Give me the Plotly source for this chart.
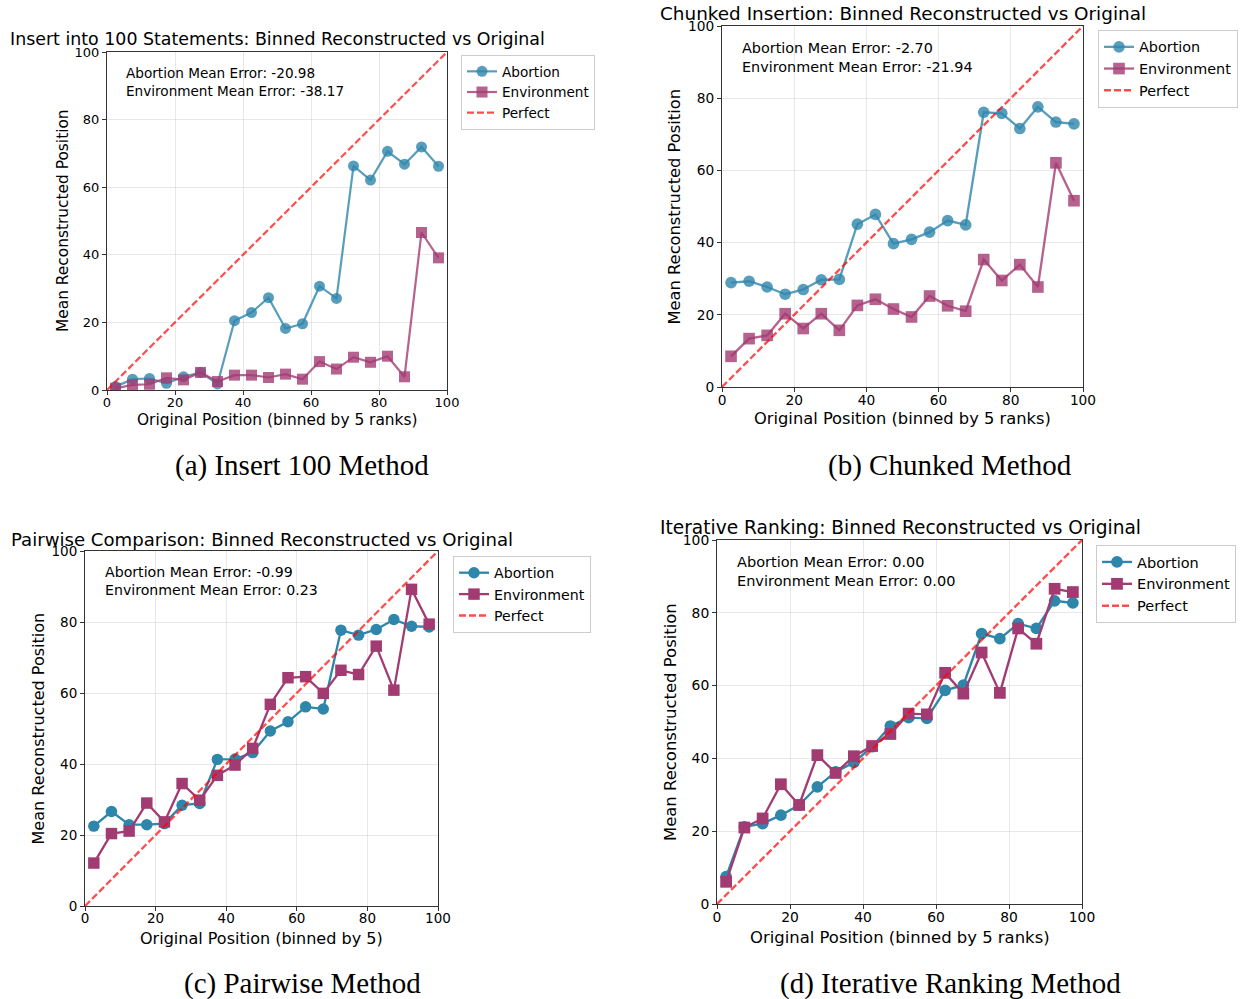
import plotly.graph_objects as go

W, H = 1247, 999

bins = [2.5, 7.5, 12.5, 17.5, 22.5, 27.5, 32.5, 37.5, 42.5, 47.5,
        52.5, 57.5, 62.5, 67.5, 72.5, 77.5, 82.5, 87.5, 92.5, 97.5]

a_abortion = [1.0, 3.2, 3.4, 2.0, 3.9, 5.2, 1.8, 20.5, 22.9, 27.3,
              18.2, 19.6, 30.7, 27.1, 66.3, 62.1, 70.6, 66.8, 71.9, 66.2]
a_environment = [0.5, 1.5, 1.7, 3.6, 3.0, 5.2, 2.5, 4.4, 4.4, 3.7,
                 4.7, 3.2, 8.4, 6.2, 9.7, 8.2, 10.0, 3.9, 46.6, 39.1]

b_abortion = [28.9, 29.3, 27.7, 25.7, 27.0, 29.7, 29.8, 45.1, 47.8, 39.7,
              40.9, 42.9, 46.1, 44.9, 76.1, 75.8, 71.6, 77.6, 73.4, 72.9]
b_environment = [8.5, 13.4, 14.3, 20.3, 16.2, 20.3, 15.7, 22.6, 24.3, 21.6,
                 19.4, 25.2, 22.5, 21.0, 35.3, 29.5, 33.9, 27.7, 62.1, 51.6]

c_abortion = [22.5, 26.6, 22.9, 22.9, 23.2, 28.4, 28.9, 41.3, 41.4, 43.2,
              49.3, 51.9, 56.1, 55.5, 77.7, 76.3, 77.9, 80.7, 78.8, 78.6]
c_environment = [12.1, 20.4, 21.1, 29.0, 23.7, 34.5, 29.8, 36.8, 39.7, 44.4,
                 56.8, 64.3, 64.6, 59.9, 66.4, 65.2, 73.2, 60.8, 89.2, 79.4]

d_abortion = [7.5, 21.2, 22.1, 24.4, 27.2, 32.2, 36.3, 38.9, 43.2, 48.9,
              51.2, 51.0, 58.7, 60.1, 74.3, 72.9, 77.0, 75.7, 83.3, 82.7]
d_environment = [6.1, 21.0, 23.5, 32.9, 27.2, 40.9, 36.0, 40.6, 43.4, 46.7,
                 52.3, 52.1, 63.5, 57.8, 69.1, 58.0, 75.7, 71.5, 86.6, 85.7]

perfect = [0, 100]
tick_vals = [0, 20, 40, 60, 80, 100]

titles = [
    "Insert into 100 Statements: Binned Reconstructed vs Original",
    "Chunked Insertion: Binned Reconstructed vs Original",
    "Pairwise Comparison: Binned Reconstructed vs Original",
    "Iterative Ranking: Binned Reconstructed vs Original",
]
xlabels = [
    "Original Position (binned by 5 ranks)",
    "Original Position (binned by 5 ranks)",
    "Original Position (binned by 5)",
    "Original Position (binned by 5 ranks)",
]
ylabel = "Mean Reconstructed Position"
errors = [("-20.98", "-38.17"), ("-2.70", "-21.94"), ("-0.99", "0.23"), ("0.00", "0.00")]
captions = ["(a) Insert 100 Method", "(b) Chunked Method",
            "(c) Pairwise Method", "(d) Iterative Ranking Method"]

series = [(a_abortion, a_environment), (b_abortion, b_environment),
          (c_abortion, c_environment), (d_abortion, d_environment)]
alphas = [0.8, 0.8, 1.0, 1.0]
scales = [1.0, 1.058, 1.041, 1.068]

# pixel boxes for axes: (left, right, top, bottom)
boxes = [(107, 447, 52, 390), (722, 1083, 26, 387),
         (85, 438, 551, 906), (717, 1082, 540, 904)]
# legend top-left
legpos = [(461, 55), (1098, 30), (453, 556), (1096, 545)]
title_pos = [(277, 39), (903, 13), (262, 539), (900, 527)]
ylabel_x = [63, 674, 38, 670]
xlabel_y = [420, 418, 938, 937]
caption_pos = [(302, 466), (950, 466), (302, 983), (950, 983)]

BLUE = (46, 134, 171)
MAG = (162, 59, 114)


def rgba(c, a):
    return f"rgba({c[0]},{c[1]},{c[2]},{a})"


fig = go.Figure()
layout = dict(width=W, height=H, margin=dict(l=0, r=0, t=0, b=0, autoexpand=False),
              paper_bgcolor="white", plot_bgcolor="white",
              font=dict(family="DejaVu Sans", color="black", size=13),
              annotations=[], showlegend=True)

for i in range(4):
    n = "" if i == 0 else str(i + 1)
    xa, ya = "x" + n, "y" + n
    lg = "legend" + n
    l, r, t, b = boxes[i]
    al = alphas[i]
    s = scales[i]
    ab, env = series[i]
    fig.add_trace(go.Scatter(x=bins, y=ab, xaxis=xa, yaxis=ya, name="Abortion",
                             mode="lines+markers", legend=lg,
                             line=dict(color=rgba(BLUE, al), width=2.2 * s),
                             marker=dict(symbol="circle", size=11 * s, color=rgba(BLUE, al))))
    fig.add_trace(go.Scatter(x=bins, y=env, xaxis=xa, yaxis=ya, name="Environment",
                             mode="lines+markers", legend=lg,
                             line=dict(color=rgba(MAG, al), width=2.2 * s),
                             marker=dict(symbol="square", size=11 * s, color=rgba(MAG, al))))
    fig.add_trace(go.Scatter(x=perfect, y=perfect, xaxis=xa, yaxis=ya, name="Perfect",
                             mode="lines", legend=lg,
                             line=dict(color="rgba(255,0,0,0.7)", width=2.2 * s,
                                       dash="7px,3px")))
    axcommon = dict(range=[0, 100], tickvals=tick_vals, showgrid=True,
                    gridcolor="rgba(0,0,0,0.09)", gridwidth=1, zeroline=False,
                    showline=True, linecolor="#333333", linewidth=1, mirror=True,
                    ticks="outside", ticklen=4, tickcolor="#333333", automargin=False,
                    tickfont=dict(size=13 * s, family="DejaVu Sans"))
    layout["xaxis" + n] = dict(axcommon, domain=[l / W, r / W], anchor=ya,
                               ticklabelstandoff=-4)
    layout["yaxis" + n] = dict(axcommon, domain=[1 - b / H, 1 - t / H], anchor=xa)
    lx, ly = legpos[i]
    layout[lg] = dict(x=lx / W, y=1 - ly / H, xref="paper", yref="paper",
                      xanchor="left", yanchor="top", bgcolor="rgba(255,255,255,0.8)",
                      bordercolor="#cccccc", borderwidth=1,
                      font=dict(size=13.6 * s, family="DejaVu Sans"),
                      tracegroupgap=0, itemwidth=30)
    tx, ty = title_pos[i]
    layout["annotations"].append(dict(text=titles[i], x=tx / W, y=1 - ty / H,
                                      xref="paper", yref="paper", showarrow=False,
                                      xanchor="center", yanchor="middle",
                                      font=dict(size=17.4 * s, family="DejaVu Sans")))
    layout["annotations"].append(dict(
        text=f"Abortion Mean Error: {errors[i][0]}<br>Environment Mean Error: {errors[i][1]}",
        x=0.05, y=0.968, xref=xa + " domain", yref=ya + " domain", showarrow=False,
        xanchor="left", yanchor="top", align="left",
        font=dict(size=13.6 * s, family="DejaVu Sans")))
    layout["annotations"].append(dict(text=ylabel, x=ylabel_x[i] / W,
                                      y=1 - ((t + b) / 2) / H, xref="paper", yref="paper",
                                      showarrow=False, textangle=-90,
                                      xanchor="center", yanchor="middle",
                                      font=dict(size=15.4 * s, family="DejaVu Sans")))
    layout["annotations"].append(dict(text=xlabels[i], x=((l + r) / 2) / W,
                                      y=1 - xlabel_y[i] / H, xref="paper", yref="paper",
                                      showarrow=False, xanchor="center", yanchor="middle",
                                      font=dict(size=15.4 * s, family="DejaVu Sans")))
    cx, cy = caption_pos[i]
    layout["annotations"].append(dict(text=captions[i], x=cx / W, y=1 - cy / H,
                                      xref="paper", yref="paper", showarrow=False,
                                      xanchor="center", yanchor="middle",
                                      font=dict(size=29, family="Liberation Serif")))

fig.update_layout(**layout)
fig.write_html("out.html", config={"displayModeBar": False},
               post_script="document.body.style.margin='0';document.body.style.padding='0';")
